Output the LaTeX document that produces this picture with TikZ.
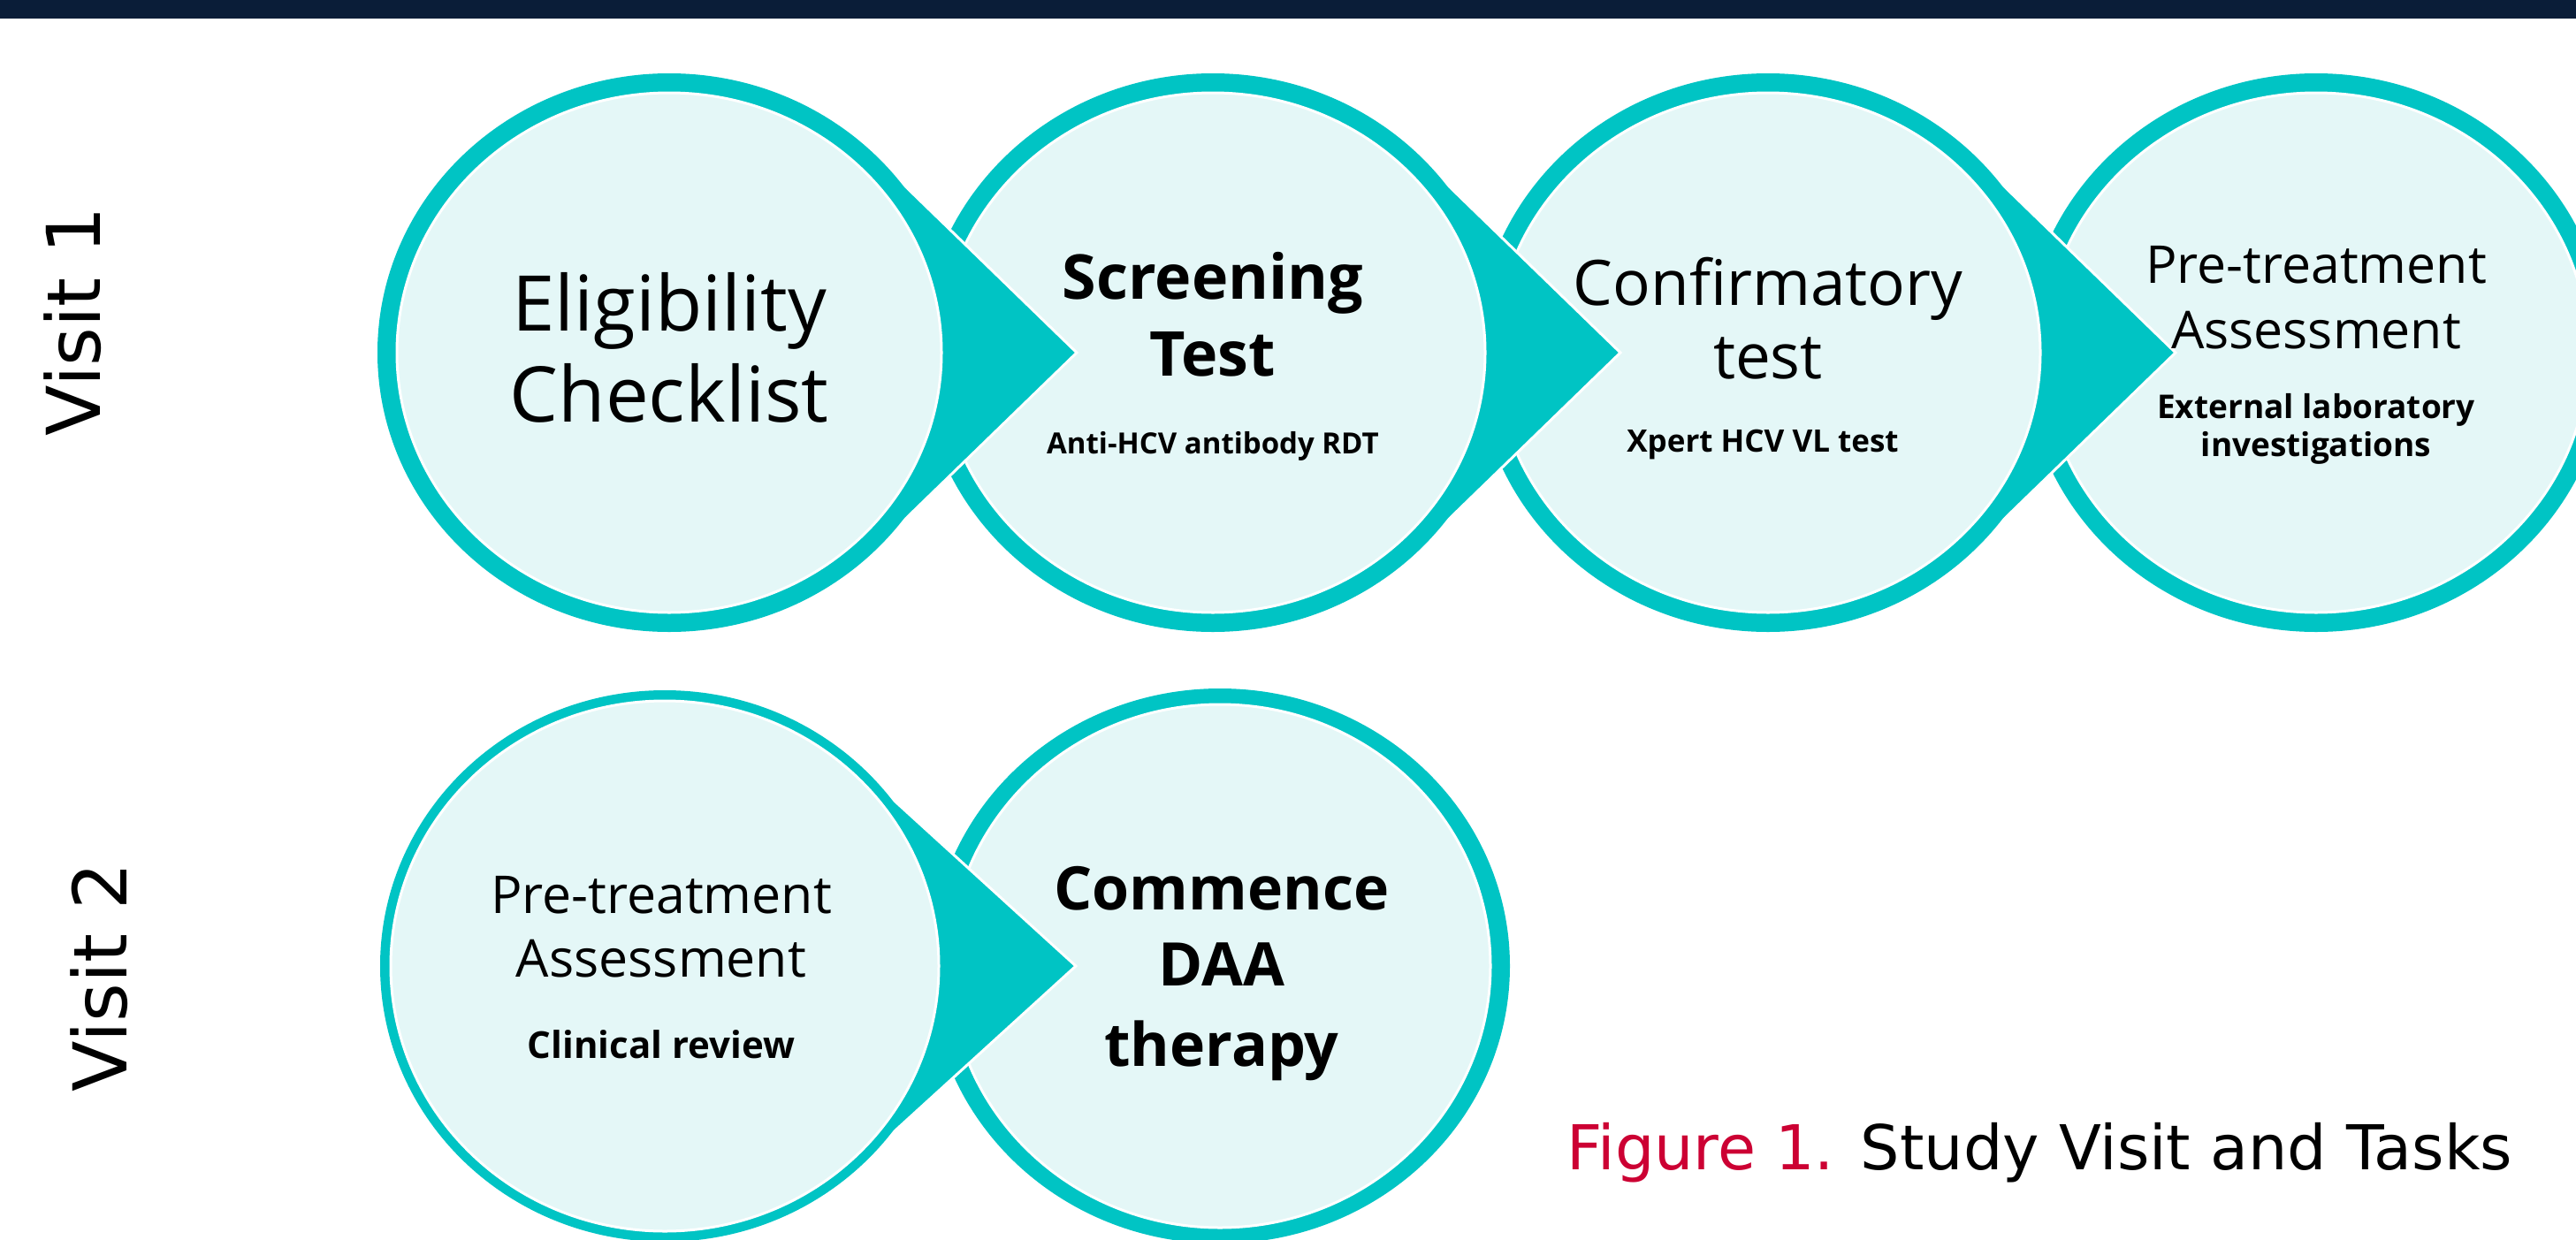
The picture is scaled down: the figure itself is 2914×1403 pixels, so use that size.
\documentclass[tikz,border=0pt]{standalone}
\usepackage{fontspec}
\setmainfont{Open Sans}
\newfontfamily\capfont{DejaVu Sans}
\usetikzlibrary{calc}
\definecolor{ringc}{RGB}{0,196,196}
\definecolor{innerc}{RGB}{228,247,247}
\definecolor{navyc}{RGB}{10,29,56}
\definecolor{figred}{RGB}{204,0,51}
\tikzset{
  txt/.style={anchor=base, inner sep=0pt, text=black},
  bigreg/.style={txt, font=\fontsize{43.5}{50}\selectfont},
  headbold/.style={txt, font=\bfseries\fontsize{35}{40}\selectfont},
  headreg/.style={txt, font=\fontsize{35.5}{40}\selectfont},
  midreg/.style={txt, font=\fontsize{29.5}{34}\selectfont},
  smallbold/.style={txt, font=\bfseries\fontsize{16.5}{20}\selectfont},
  labbold/.style={txt, font=\bfseries\fontsize{18.5}{22}\selectfont},
  clinbold/.style={txt, font=\bfseries\fontsize{21}{26}\selectfont},
  daabold/.style={txt, font=\bfseries\fontsize{34}{40}\selectfont},
  visitlab/.style={anchor=base west, inner sep=0pt, rotate=90, font=\capfont\fontsize{42}{48}\selectfont},
  wedgeline/.style={draw=white, line width=1.5pt, line join=miter},
}
\begin{document}
\begin{tikzpicture}[x=0.5pt,y=-0.5pt]
\useasboundingbox (0,0) rectangle (2914,1403);
\fill[white] (0,0) rectangle (2914,1403);
\fill[navyc] (0,0) rectangle (2914,21);

% centres
\coordinate (c1) at (757,399);
\coordinate (c2) at (1372,399);
\coordinate (c3) at (2000,399);
\coordinate (c4) at (2620,399);
\coordinate (c5) at (752,1093);
\coordinate (c6) at (1380,1093);

% ---- row 1, drawn right to left ----
\fill[ringc] (c4) ellipse [x radius=165pt, y radius=158pt];
\filldraw[fill=innerc, draw=white, line width=1.5pt] (c4) ellipse [x radius=154pt, y radius=147pt];

\fill[ringc] (c3) -- ($(c3)+(256,-199)$) -- ($(c3)+(461,0)$) -- ($(c3)+(256,199)$) -- cycle;
\draw[wedgeline] ($(c3)+(256,-199)$) -- ($(c3)+(461,0)$) -- ($(c3)+(256,199)$);
\fill[ringc] (c3) ellipse [x radius=165pt, y radius=158pt];
\filldraw[fill=innerc, draw=white, line width=1.5pt] (c3) ellipse [x radius=154pt, y radius=147pt];

\fill[ringc] (c2) -- ($(c2)+(256,-199)$) -- ($(c2)+(461,0)$) -- ($(c2)+(256,199)$) -- cycle;
\draw[wedgeline] ($(c2)+(256,-199)$) -- ($(c2)+(461,0)$) -- ($(c2)+(256,199)$);
\fill[ringc] (c2) ellipse [x radius=165pt, y radius=158pt];
\filldraw[fill=innerc, draw=white, line width=1.5pt] (c2) ellipse [x radius=154pt, y radius=147pt];

\fill[ringc] (c1) -- ($(c1)+(256,-199)$) -- ($(c1)+(461,0)$) -- ($(c1)+(256,199)$) -- cycle;
\draw[wedgeline] ($(c1)+(256,-199)$) -- ($(c1)+(461,0)$) -- ($(c1)+(256,199)$);
\fill[ringc] (c1) ellipse [x radius=165pt, y radius=158pt];
\filldraw[fill=innerc, draw=white, line width=1.5pt] (c1) ellipse [x radius=154pt, y radius=147pt];

% ---- row 2 ----
\fill[ringc] (c6) ellipse [x radius=164pt, y radius=157pt];
\filldraw[fill=innerc, draw=white, line width=1.5pt] (c6) ellipse [x radius=153pt, y radius=148pt];

\fill[ringc] (c5) -- ($(c5)+(251,-195)$) -- ($(c5)+(465,0)$) -- ($(c5)+(251,195)$) -- cycle;
\draw[wedgeline] ($(c5)+(251,-195)$) -- ($(c5)+(465,0)$) -- ($(c5)+(251,195)$);
\fill[ringc] (c5) ellipse [x radius=161pt, y radius=156pt];
\filldraw[fill=innerc, draw=white, line width=1.5pt] (c5) ellipse [x radius=155pt, y radius=150pt];

% ---- texts ----
\node[bigreg] (t1a) at (757,374) {Eligibility};
\node[bigreg] (t1b) at (757,477) {Checklist};

\node[headbold] (t2a) at (1372,338) {Screening};
\node[headbold] (t2b) at (1372,425) {Test};
\node[smallbold] (t2c) at (1372,513) {Anti-HCV antibody RDT};

\node[headreg] (t3a) at (2000,345) {Confirmatory};
\node[headreg] (t3b) at (2000,428) {test};
\node[txt, font=\bfseries\fontsize{17.5}{20}\selectfont] (t3c) at (1994,511) {Xpert HCV VL test};

\node[midreg] (t4a) at (2620,320) {Pre-treatment};
\node[midreg] (t4b) at (2620,394) {Assessment};
\node[labbold] (t4c) at (2620,473) {External laboratory};
\node[labbold] (t4d) at (2620,516) {investigations};

\node[midreg] (t5a) at (748,1033) {Pre-treatment};
\node[midreg] (t5b) at (748,1105) {Assessment};
\node[clinbold] (t5c) at (748,1197) {Clinical review};

\node[daabold] (t6a) at (1382,1029) {Commence};
\node[daabold] (t6b) at (1382,1115) {DAA};
\node[daabold] (t6c) at (1382,1206) {therapy};

% visit labels
\node[visitlab] (v1) at (113,494) {Visit 1};
\node[visitlab] (v2) at (143,1236) {Visit 2};

% caption
\node[anchor=base west, inner sep=0pt, font=\capfont\fontsize{35}{40}\selectfont] (cap) at (1772,1323) {\textcolor{figred}{Figure 1.} Study Visit and Tasks};
\end{tikzpicture}
\end{document}
